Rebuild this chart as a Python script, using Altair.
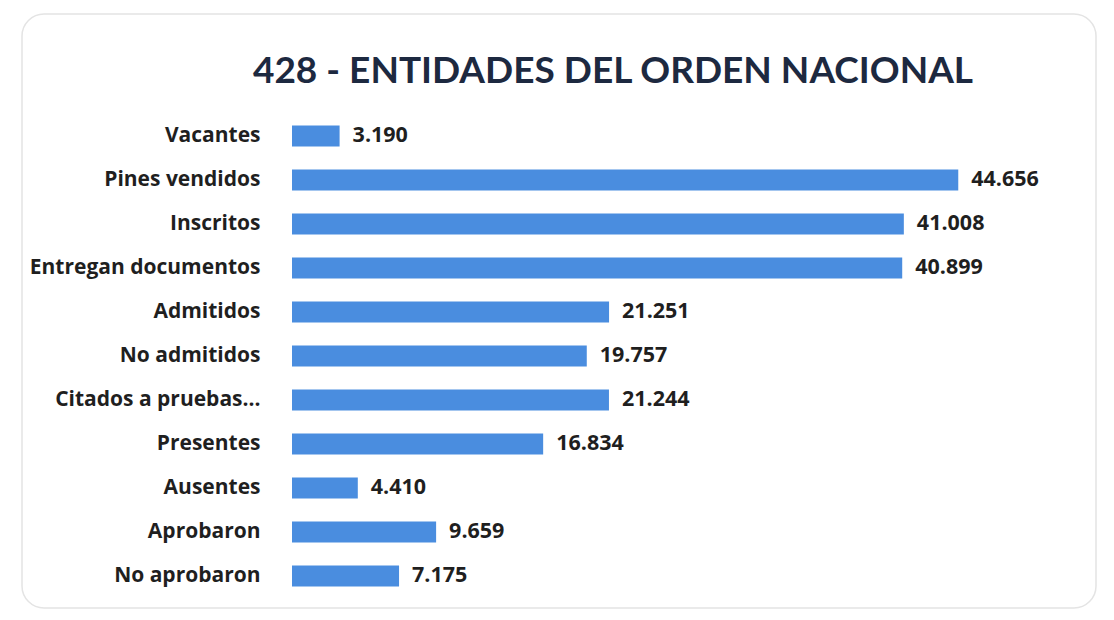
import altair as alt
import pandas as pd

categories = ["Vacantes", "Pines vendidos", "Inscritos", "Entregan documentos", "Admitidos",
              "No admitidos", "Citados a pruebas...", "Presentes", "Ausentes", "Aprobaron", "No aprobaron"]
values = [3190, 44656, 41008, 40899, 21251, 19757, 21244, 16834, 4410, 9659, 7175]

df = pd.DataFrame({"cat": categories, "val": values})
df["label"] = [f"{v:,}".replace(",", ".") for v in values]

FONT = "Open Sans"
TXT = "#1f1f1f"

y = alt.Y("cat:N", sort=categories, title=None,
          scale=alt.Scale(paddingInner=0.52, paddingOuter=0.26),
          axis=alt.Axis(domain=False, ticks=False, grid=False, labelFont=FONT,
                        labelFontSize=21, labelFontWeight="bold", labelColor=TXT,
                        labelPadding=32, labelLimit=400))
x = alt.X("val:Q", title=None, scale=alt.Scale(domain=[0, 50000], nice=False), axis=None)

frame = alt.Chart(df.head(1)).mark_rect(fill=None, stroke="#e4e4e4", strokeWidth=1.5,
                                        cornerRadius=22).encode(
    x=alt.value(-270), x2=alt.value(804), y=alt.value(-100), y2=alt.value(494))
bars = alt.Chart(df).mark_bar(color="#4a8ddf").encode(x=x, y=y)
text = alt.Chart(df).mark_text(align="left", baseline="middle", dx=13, font=FONT,
                               fontSize=21.5, fontWeight="bold", color=TXT).encode(
    x=x, y=y, text="label:N")

chart = (frame + bars + text).properties(
    width=746, height=484,
    title=alt.TitleParams("428 - ENTIDADES DEL ORDEN NACIONAL", font="Lato", fontSize=37,
                          fontWeight="bold", color="#1d2940", anchor="middle", dx=-52,
                          offset=-78),
    padding={"left": 284, "top": 106, "right": 64, "bottom": 12},
    autosize=alt.AutoSizeParams(type="none"),
    background="white",
).configure_view(stroke=None)

chart.save("out.html", embed_options={"renderer": "svg", "actions": False})
